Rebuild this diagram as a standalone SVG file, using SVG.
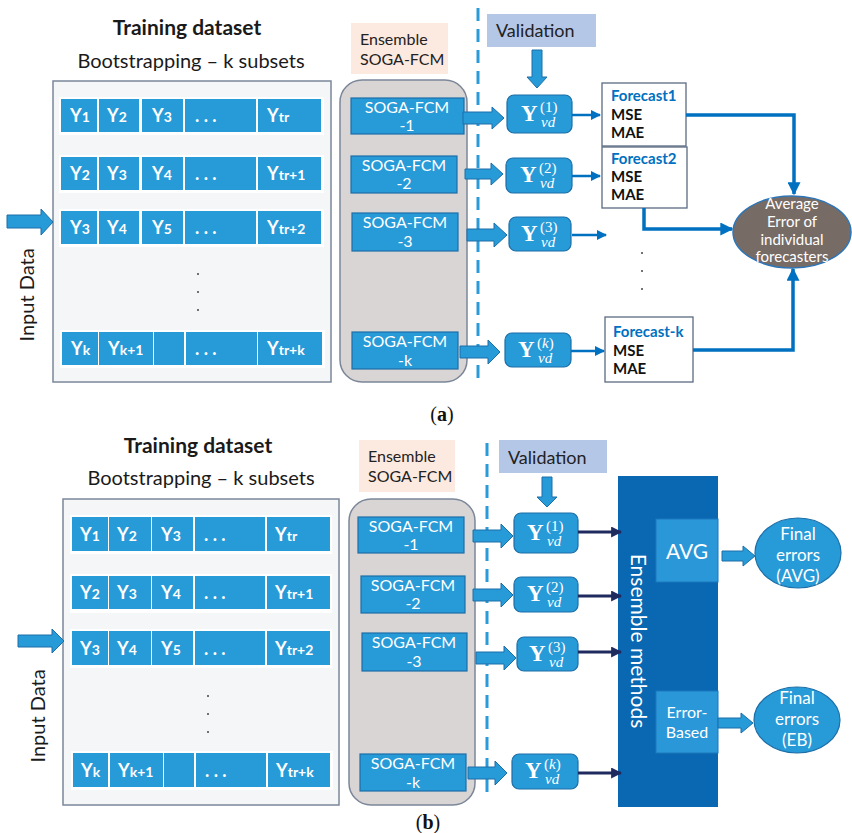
<svg xmlns="http://www.w3.org/2000/svg" width="852" height="833" viewBox="0 0 852 833">
  <style>
    text { font-family: Lato, "Liberation Sans", sans-serif; }
    .title { font-size: 21px; font-weight: bold; fill: #1a1a1a; text-anchor: middle; }
    .subtitle { font-size: 20px; fill: #1a1a1a; text-anchor: middle; }
    .frame { fill: #f5f6f8; stroke: #7b8799; stroke-width: 1.5; }
    .strip { fill: #ffffff; }
    .cell { fill: #279ad8; }
    .ct { font-size: 18px; font-weight: bold; fill: #ffffff; }
    .sub { font-size: 14px; }
    .dot { fill: #444; }
    .side { font-size: 20px; fill: #1a1a1a; text-anchor: middle; }
    .ens { fill: #fce9df; }
    .enst { font-size: 16px; fill: #222; }
    .pool { fill: #d9d5d5; stroke: #7b8799; stroke-width: 1.5; }
    .model { fill: #279ad8; stroke: #1d6fa8; stroke-width: 1.2; }
    .mt { font-size: 16px; fill: #ffffff; text-anchor: middle; }
    .barrow { fill: #279ad8; stroke: #1d6fa8; stroke-width: 1; }
    .dash { stroke: #2a9ad8; stroke-width: 3; stroke-dasharray: 13 8; fill: none; }
    .valid { fill: #b4c7e7; }
    .validt { font-size: 18px; fill: #222; }
    .yv { fill: #279ad8; stroke: #1d6fa8; stroke-width: 1.2; }
    .ym { font-family: "Liberation Serif", "DejaVu Serif", serif; fill: #ffffff; }
    .yb { font-size: 23px; font-weight: bold; }
    .ys { font-size: 15px; }
    .yi { font-size: 15px; font-style: italic; }
    .fbox { fill: #ffffff; stroke: #5b6b80; stroke-width: 1.3; }
    .fh { font-size: 15px; font-weight: bold; fill: #0070c0; }
    .fm { font-size: 15px; font-weight: bold; fill: #111; }
    .link { fill: none; stroke: #0070c0; stroke-width: 3.5; }
    .thin { fill: none; stroke: #0070c0; stroke-width: 2.5; }
    .navy { fill: none; stroke: #1f2a5e; stroke-width: 3; }
    .avgerr { fill: #776b66; stroke: #2e75b6; stroke-width: 1.5; }
    .et { font-size: 15px; fill: #ffffff; text-anchor: middle; }
    .meth { fill: #0a67b2; }
    .methbox { fill: #2a98d8; stroke: #1d78bd; stroke-width: 1; }
    .final { fill: #279ad8; stroke: #1d6fa8; stroke-width: 1.2; }
    .ft { font-size: 17px; fill: #ffffff; text-anchor: middle; }
    .cap { font-family: "Liberation Serif", serif; font-size: 20px; fill: #111; text-anchor: middle; }
  </style>
  <defs>
    <marker id="hb" viewBox="0 0 10 10" refX="9" refY="5" markerWidth="10" markerHeight="10" markerUnits="userSpaceOnUse" orient="auto">
      <path d="M0,0 L10,5 L0,10 z" fill="#0070c0"/>
    </marker>
    <marker id="hbig" viewBox="0 0 10 10" refX="9" refY="5" markerWidth="13" markerHeight="13" markerUnits="userSpaceOnUse" orient="auto">
      <path d="M0,0 L10,5 L0,10 z" fill="#0070c0"/>
    </marker>
    <marker id="hn" viewBox="0 0 10 10" refX="9" refY="5" markerWidth="11" markerHeight="11" markerUnits="userSpaceOnUse" orient="auto">
      <path d="M0,0 L10,5 L0,10 z" fill="#1f2a5e"/>
    </marker>
  </defs>

  <!-- ===================== panel (a) ===================== -->
  <g id="a-training">
    <text class="title" x="187" y="35">Training dataset</text>
    <text class="subtitle" x="191" y="68">Bootstrapping – k subsets</text>
    <rect class="frame" x="53" y="81" width="278" height="301"/>
    <!-- row 1 -->
    <rect class="strip" x="59" y="97" width="265" height="38"/>
    <rect class="cell" x="61" y="99" width="36" height="33"/>
    <rect class="cell" x="99" y="99" width="40" height="33"/>
    <rect class="cell" x="142" y="99" width="41" height="33"/>
    <rect class="cell" x="185" y="99" width="71" height="33"/>
    <rect class="cell" x="258" y="99" width="63" height="33"/>
    <text class="ct" x="70" y="122">Y<tspan class="sub">1</tspan></text>
    <text class="ct" x="107" y="122">Y<tspan class="sub">2</tspan></text>
    <text class="ct" x="152" y="122">Y<tspan class="sub">3</tspan></text>
    <text class="ct" x="195" y="122">. . .</text>
    <text class="ct" x="267" y="122">Y<tspan class="sub">tr</tspan></text>
    <!-- row 2 -->
    <rect class="strip" x="59" y="155" width="265" height="38"/>
    <rect class="cell" x="61" y="157" width="36" height="33"/>
    <rect class="cell" x="99" y="157" width="40" height="33"/>
    <rect class="cell" x="142" y="157" width="41" height="33"/>
    <rect class="cell" x="185" y="157" width="71" height="33"/>
    <rect class="cell" x="258" y="157" width="63" height="33"/>
    <text class="ct" x="70" y="180">Y<tspan class="sub">2</tspan></text>
    <text class="ct" x="107" y="180">Y<tspan class="sub">3</tspan></text>
    <text class="ct" x="152" y="180">Y<tspan class="sub">4</tspan></text>
    <text class="ct" x="195" y="180">. . .</text>
    <text class="ct" x="267" y="180">Y<tspan class="sub">tr+1</tspan></text>
    <!-- row 3 -->
    <rect class="strip" x="59" y="209" width="265" height="38"/>
    <rect class="cell" x="61" y="211" width="36" height="33"/>
    <rect class="cell" x="99" y="211" width="40" height="33"/>
    <rect class="cell" x="142" y="211" width="41" height="33"/>
    <rect class="cell" x="185" y="211" width="71" height="33"/>
    <rect class="cell" x="258" y="211" width="63" height="33"/>
    <text class="ct" x="70" y="234">Y<tspan class="sub">3</tspan></text>
    <text class="ct" x="107" y="234">Y<tspan class="sub">4</tspan></text>
    <text class="ct" x="152" y="234">Y<tspan class="sub">5</tspan></text>
    <text class="ct" x="195" y="234">. . .</text>
    <text class="ct" x="267" y="234">Y<tspan class="sub">tr+2</tspan></text>
    <!-- ellipsis -->
    <circle class="dot" cx="198" cy="274" r="1"/>
    <circle class="dot" cx="198" cy="292" r="1"/>
    <circle class="dot" cx="198" cy="310" r="1"/>
    <!-- row k -->
    <rect class="strip" x="60" y="330" width="265" height="38"/>
    <rect class="cell" x="62" y="332" width="36" height="33"/>
    <rect class="cell" x="99" y="332" width="54" height="33"/>
    <rect class="cell" x="154" y="332" width="30" height="33"/>
    <rect class="cell" x="186" y="332" width="71" height="33"/>
    <rect class="cell" x="258" y="332" width="64" height="33"/>
    <text class="ct" x="71" y="355">Y<tspan class="sub">k</tspan></text>
    <text class="ct" x="108" y="355">Y<tspan class="sub">k+1</tspan></text>
    <text class="ct" x="195" y="355">. . .</text>
    <text class="ct" x="267" y="355">Y<tspan class="sub">tr+k</tspan></text>
  </g>

  <g id="a-input">
    <polygon class="barrow" points="7,215 41,215 41,209 53,222 41,235 41,228 7,228"/>
    <text class="side" transform="translate(34,295) rotate(-90)">Input Data</text>
  </g>

  <g id="a-ensemble">
    <rect class="ens" x="351" y="23" width="97" height="51"/>
    <text class="enst" x="360" y="45">Ensemble</text>
    <text class="enst" x="360" y="65">SOGA-FCM</text>
    <rect class="pool" x="340" y="80" width="127" height="302" rx="22"/>
  </g>

  <g id="a-model-1">
    <rect class="model" x="351" y="98" width="113" height="36"/>
    <text class="mt" x="407" y="113">SOGA-FCM</text>
    <text class="mt" x="407" y="131">-1</text>
  </g>
  <g id="a-model-2">
    <rect class="model" x="351" y="156" width="106" height="37"/>
    <text class="mt" x="404" y="171">SOGA-FCM</text>
    <text class="mt" x="404" y="189">-2</text>
  </g>
  <g id="a-model-3">
    <rect class="model" x="352" y="213" width="106" height="38"/>
    <text class="mt" x="405" y="228">SOGA-FCM</text>
    <text class="mt" x="405" y="247">-3</text>
  </g>
  <g id="a-model-k">
    <rect class="model" x="352" y="332" width="106" height="37"/>
    <text class="mt" x="405" y="347">SOGA-FCM</text>
    <text class="mt" x="405" y="366">-k</text>
  </g>

  <g id="a-validation">
    <rect class="valid" x="487" y="14" width="109" height="33"/>
    <text class="validt" x="496" y="37">Validation</text>
  </g>

  <g id="a-y1">
    <rect class="yv" x="507" y="95" width="65" height="38" rx="7"/>
    <text class="ym"><tspan class="yb" x="521" y="121">Y</tspan><tspan class="ys" x="540" y="112">(1)</tspan><tspan class="yi" x="541" y="127">vd</tspan></text>
  </g>
  <g id="a-y2">
    <rect class="yv" x="506" y="158" width="66" height="35" rx="7"/>
    <text class="ym"><tspan class="yb" x="520" y="182">Y</tspan><tspan class="ys" x="539" y="173">(2)</tspan><tspan class="yi" x="540" y="188">vd</tspan></text>
  </g>
  <g id="a-y3">
    <rect class="yv" x="509" y="217" width="62" height="34" rx="7"/>
    <text class="ym"><tspan class="yb" x="521" y="241">Y</tspan><tspan class="ys" x="540" y="232">(3)</tspan><tspan class="yi" x="541" y="247">vd</tspan></text>
  </g>
  <g id="a-yk">
    <rect class="yv" x="505" y="333" width="66" height="34" rx="7"/>
    <text class="ym"><tspan class="yb" x="518" y="357">Y</tspan><tspan class="ys" x="537" y="348">(<tspan font-style="italic">k</tspan>)</tspan><tspan class="yi" x="538" y="363">vd</tspan></text>
  </g>

  <g id="a-forecast-1">
    <rect class="fbox" x="602" y="83" width="84" height="63"/>
    <text class="fh" x="611" y="101">Forecast1</text>
    <text class="fm" x="611" y="120">MSE</text>
    <text class="fm" x="611" y="138">MAE</text>
  </g>
  <g id="a-forecast-2">
    <rect class="fbox" x="602" y="147" width="85" height="61"/>
    <text class="fh" x="611" y="164">Forecast2</text>
    <text class="fm" x="611" y="182">MSE</text>
    <text class="fm" x="611" y="200">MAE</text>
  </g>
  <g id="a-forecast-k">
    <rect class="fbox" x="605" y="317" width="88" height="65"/>
    <text class="fh" x="613" y="337">Forecast-k</text>
    <text class="fm" x="613" y="356">MSE</text>
    <text class="fm" x="613" y="374">MAE</text>
  </g>

  <g id="a-average-error">
    <ellipse class="avgerr" cx="792" cy="232" rx="59" ry="36"/>
    <text class="et" x="792" y="209">Average</text>
    <text class="et" x="792" y="227">Error of</text>
    <text class="et" x="792" y="245">individual</text>
    <text class="et" x="792" y="262">forecasters</text>
  </g>

  <g id="a-connectors">
    <line class="dash" x1="478" y1="8" x2="478" y2="378"/>
    <polygon class="barrow" points="532,50 542,50 542,77 547,77 537,88 527,77 532,77"/>
    <polygon class="barrow" points="463,112 492,112 492,107 504,118 492,129 492,124 463,124"/>
    <polygon class="barrow" points="465,169 491,169 491,163 503,174 491,185 491,179 465,179"/>
    <polygon class="barrow" points="467,229 494,229 494,223 507,235 494,247 494,241 467,241"/>
    <polygon class="barrow" points="460,346 488,346 488,340 500,352 488,364 488,358 460,358"/>
    <line class="thin" x1="572" y1="115" x2="600" y2="115" marker-end="url(#hb)"/>
    <line class="thin" x1="572" y1="176" x2="600" y2="176" marker-end="url(#hb)"/>
    <line class="thin" x1="572" y1="235" x2="606" y2="235" marker-end="url(#hb)"/>
    <line class="thin" x1="571" y1="351" x2="604" y2="351" marker-end="url(#hb)"/>
    <path class="link" d="M686,115 H794 V194" marker-end="url(#hbig)"/>
    <path class="link" d="M644,208 V229 H732" marker-end="url(#hbig)"/>
    <path class="link" d="M693,350 H793 V269" marker-end="url(#hbig)"/>
    <circle class="dot" cx="642" cy="253" r="1"/>
    <circle class="dot" cx="642" cy="271" r="1"/>
    <circle class="dot" cx="642" cy="289" r="1"/>
  </g>

  <text class="cap" x="442" y="421">(<tspan font-weight="bold">a</tspan>)</text>

  <!-- ===================== panel (b) ===================== -->
  <g id="b-training">
    <text class="title" x="198" y="453">Training dataset</text>
    <text class="subtitle" x="201" y="485">Bootstrapping – k subsets</text>
    <rect class="frame" x="63" y="499" width="276" height="306"/>
    <!-- row 1 -->
    <rect class="strip" x="70" y="515" width="262" height="39"/>
    <rect class="cell" x="72" y="517" width="36" height="34"/>
    <rect class="cell" x="109" y="517" width="42" height="34"/>
    <rect class="cell" x="152" y="517" width="41" height="34"/>
    <rect class="cell" x="195" y="517" width="70" height="34"/>
    <rect class="cell" x="267" y="517" width="63" height="34"/>
    <text class="ct" x="80" y="541">Y<tspan class="sub">1</tspan></text>
    <text class="ct" x="117" y="541">Y<tspan class="sub">2</tspan></text>
    <text class="ct" x="161" y="541">Y<tspan class="sub">3</tspan></text>
    <text class="ct" x="204" y="541">. . .</text>
    <text class="ct" x="275" y="541">Y<tspan class="sub">tr</tspan></text>
    <!-- row 2 -->
    <rect class="strip" x="70" y="574" width="262" height="39"/>
    <rect class="cell" x="72" y="576" width="36" height="33"/>
    <rect class="cell" x="109" y="576" width="42" height="33"/>
    <rect class="cell" x="152" y="576" width="41" height="33"/>
    <rect class="cell" x="195" y="576" width="70" height="33"/>
    <rect class="cell" x="267" y="576" width="63" height="33"/>
    <text class="ct" x="80" y="599">Y<tspan class="sub">2</tspan></text>
    <text class="ct" x="117" y="599">Y<tspan class="sub">3</tspan></text>
    <text class="ct" x="161" y="599">Y<tspan class="sub">4</tspan></text>
    <text class="ct" x="204" y="599">. . .</text>
    <text class="ct" x="275" y="599">Y<tspan class="sub">tr+1</tspan></text>
    <!-- row 3 -->
    <rect class="strip" x="70" y="629" width="262" height="39"/>
    <rect class="cell" x="72" y="631" width="36" height="34"/>
    <rect class="cell" x="109" y="631" width="42" height="34"/>
    <rect class="cell" x="152" y="631" width="41" height="34"/>
    <rect class="cell" x="195" y="631" width="70" height="34"/>
    <rect class="cell" x="267" y="631" width="63" height="34"/>
    <text class="ct" x="80" y="655">Y<tspan class="sub">3</tspan></text>
    <text class="ct" x="117" y="655">Y<tspan class="sub">4</tspan></text>
    <text class="ct" x="161" y="655">Y<tspan class="sub">5</tspan></text>
    <text class="ct" x="204" y="655">. . .</text>
    <text class="ct" x="275" y="655">Y<tspan class="sub">tr+2</tspan></text>
    <!-- ellipsis -->
    <circle class="dot" cx="208" cy="696" r="1"/>
    <circle class="dot" cx="208" cy="714" r="1"/>
    <circle class="dot" cx="208" cy="732" r="1"/>
    <!-- row k -->
    <rect class="strip" x="71" y="751" width="262" height="39"/>
    <rect class="cell" x="73" y="753" width="35" height="34"/>
    <rect class="cell" x="110" y="753" width="53" height="34"/>
    <rect class="cell" x="164" y="753" width="30" height="34"/>
    <rect class="cell" x="196" y="753" width="70" height="34"/>
    <rect class="cell" x="268" y="753" width="62" height="34"/>
    <text class="ct" x="81" y="777">Y<tspan class="sub">k</tspan></text>
    <text class="ct" x="118" y="777">Y<tspan class="sub">k+1</tspan></text>
    <text class="ct" x="205" y="777">. . .</text>
    <text class="ct" x="276" y="777">Y<tspan class="sub">tr+k</tspan></text>
  </g>

  <g id="b-input">
    <polygon class="barrow" points="18,635 52,635 52,629 64,641 52,653 52,647 18,647"/>
    <text class="side" transform="translate(45,716) rotate(-90)">Input Data</text>
  </g>

  <g id="b-ensemble">
    <rect class="ens" x="359" y="440" width="96" height="52"/>
    <text class="enst" x="368" y="462">Ensemble</text>
    <text class="enst" x="368" y="482">SOGA-FCM</text>
    <rect class="pool" x="349" y="499" width="126" height="306" rx="22"/>
  </g>

  <g id="b-model-1">
    <rect class="model" x="358" y="517" width="106" height="36"/>
    <text class="mt" x="411" y="532">SOGA-FCM</text>
    <text class="mt" x="411" y="550">-1</text>
  </g>
  <g id="b-model-2">
    <rect class="model" x="361" y="576" width="104" height="37"/>
    <text class="mt" x="413" y="591">SOGA-FCM</text>
    <text class="mt" x="413" y="609">-2</text>
  </g>
  <g id="b-model-3">
    <rect class="model" x="362" y="633" width="105" height="38"/>
    <text class="mt" x="414" y="648">SOGA-FCM</text>
    <text class="mt" x="414" y="667">-3</text>
  </g>
  <g id="b-model-k">
    <rect class="model" x="360" y="754" width="106" height="37"/>
    <text class="mt" x="413" y="769">SOGA-FCM</text>
    <text class="mt" x="413" y="788">-k</text>
  </g>

  <g id="b-validation">
    <rect class="valid" x="499" y="440" width="108" height="33"/>
    <text class="validt" x="508" y="464">Validation</text>
  </g>

  <g id="b-y1">
    <rect class="yv" x="514" y="513" width="64" height="40" rx="7"/>
    <text class="ym"><tspan class="yb" x="527" y="540">Y</tspan><tspan class="ys" x="546" y="531">(1)</tspan><tspan class="yi" x="547" y="546">vd</tspan></text>
  </g>
  <g id="b-y2">
    <rect class="yv" x="514" y="577" width="64" height="35" rx="7"/>
    <text class="ym"><tspan class="yb" x="527" y="601">Y</tspan><tspan class="ys" x="546" y="592">(2)</tspan><tspan class="yi" x="547" y="607">vd</tspan></text>
  </g>
  <g id="b-y3">
    <rect class="yv" x="517" y="637" width="61" height="34" rx="7"/>
    <text class="ym"><tspan class="yb" x="529" y="661">Y</tspan><tspan class="ys" x="548" y="652">(3)</tspan><tspan class="yi" x="549" y="667">vd</tspan></text>
  </g>
  <g id="b-yk">
    <rect class="yv" x="512" y="754" width="66" height="35" rx="7"/>
    <text class="ym"><tspan class="yb" x="525" y="778">Y</tspan><tspan class="ys" x="544" y="769">(<tspan font-style="italic">k</tspan>)</tspan><tspan class="yi" x="545" y="784">vd</tspan></text>
  </g>

  <g id="b-ensemble-methods">
    <rect class="meth" x="618" y="476" width="100" height="331"/>
    <text fill="#ffffff" font-size="21" text-anchor="middle" transform="translate(631,641) rotate(90)">Ensemble methods</text>
  </g>
  <g id="b-avg">
    <rect class="methbox" x="656" y="519" width="62" height="63"/>
    <text fill="#ffffff" font-size="21" text-anchor="middle" x="687" y="559">AVG</text>
  </g>
  <g id="b-error-based">
    <rect class="methbox" x="656" y="691" width="62" height="62"/>
    <text fill="#ffffff" font-size="16" text-anchor="middle" x="687" y="718">Error-</text>
    <text fill="#ffffff" font-size="16" text-anchor="middle" x="687" y="738">Based</text>
  </g>
  <g id="b-final-avg">
    <ellipse class="final" cx="798" cy="553" rx="43" ry="35"/>
    <text class="ft" x="798" y="540">Final</text>
    <text class="ft" x="798" y="561">errors</text>
    <text class="ft" x="798" y="582">(AVG)</text>
  </g>
  <g id="b-final-eb">
    <ellipse class="final" cx="797" cy="720" rx="43" ry="33"/>
    <text class="ft" x="797" y="704">Final</text>
    <text class="ft" x="797" y="725">errors</text>
    <text class="ft" x="797" y="746">(EB)</text>
  </g>

  <g id="b-connectors">
    <line class="dash" x1="487" y1="443" x2="487" y2="798"/>
    <polygon class="barrow" points="542,477 552,477 552,497 557,497 547,507 537,497 542,497"/>
    <polygon class="barrow" points="473,530 501,530 501,524 513,536 501,548 501,542 473,542"/>
    <polygon class="barrow" points="473,589 501,589 501,583 513,595 501,607 501,601 473,601"/>
    <polygon class="barrow" points="476,652 504,652 504,646 516,658 504,670 504,664 476,664"/>
    <polygon class="barrow" points="468,767 495,767 495,761 507,773 495,785 495,779 468,779"/>
    <line class="navy" x1="578" y1="532" x2="621" y2="532" marker-end="url(#hn)"/>
    <line class="navy" x1="578" y1="596" x2="621" y2="596" marker-end="url(#hn)"/>
    <line class="navy" x1="578" y1="652" x2="621" y2="652" marker-end="url(#hn)"/>
    <line class="navy" x1="578" y1="773" x2="621" y2="773" marker-end="url(#hn)"/>
    <polygon class="barrow" points="722,551 743,551 743,546 755,556 743,566 743,561 722,561"/>
    <polygon class="barrow" points="718,718 741,718 741,713 753,723 741,733 741,728 718,728"/>
  </g>

  <text class="cap" x="428" y="829">(<tspan font-weight="bold">b</tspan>)</text>
</svg>
